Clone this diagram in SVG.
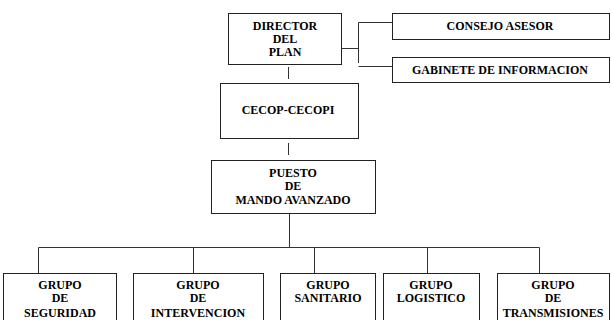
<svg xmlns="http://www.w3.org/2000/svg" width="611" height="320" viewBox="0 0 611 320">
<style>
.box{fill:#fff;stroke:#222;stroke-width:1}
.t{font-family:"Liberation Serif","Times New Roman",serif;font-weight:bold;font-size:12px;fill:#000;text-anchor:middle}
.c{stroke:#333;stroke-width:1;fill:none}
</style>
<rect width="611" height="320" fill="#fff"/>
<g id="connectors">
<path class="c" d="M341.5 48.5H358.5M358.5 22.5V63M358.5 22.5H392M358.5 66.5H392"/>
<path class="c" d="M288.5 67V79"/>
<path class="c" d="M288.5 143V155"/>
<path class="c" d="M289.5 213V247.5M38.5 247.5H539.5M38.5 247.5V273M193.5 247.5V273M314.5 247.5V273M427.5 247.5V273M539.5 247.5V273"/>
</g>
<g id="director">
<rect class="box" x="228.5" y="13.5" width="113" height="51"/>
<text class="t" x="285" y="30">DIRECTOR</text>
<text class="t" x="285" y="43">DEL</text>
<text class="t" x="285" y="56">PLAN</text>
</g>
<g id="consejo">
<rect class="box" x="392.5" y="13.5" width="217" height="26"/>
<text class="t" x="500" y="30">CONSEJO ASESOR</text>
</g>
<g id="gabinete">
<rect class="box" x="392.5" y="57.5" width="217" height="25"/>
<text class="t" x="500" y="74">GABINETE DE INFORMACION</text>
</g>
<g id="cecop">
<rect class="box" x="220.5" y="83.5" width="138" height="55"/>
<text class="t" x="288" y="114">CECOP-CECOPI</text>
</g>
<g id="pma">
<rect class="box" x="211.5" y="160.5" width="164" height="53"/>
<text class="t" x="293" y="177">PUESTO</text>
<text class="t" x="293" y="190">DE</text>
<text class="t" x="293" y="204">MANDO AVANZADO</text>
</g>
<g id="seguridad">
<rect class="box" x="3.5" y="273.5" width="113" height="60"/>
<text class="t" x="60" y="289">GRUPO</text>
<text class="t" x="60" y="302">DE</text>
<text class="t" x="60" y="317">SEGURIDAD</text>
</g>
<g id="intervencion">
<rect class="box" x="133.5" y="273.5" width="130" height="60"/>
<text class="t" x="198" y="289">GRUPO</text>
<text class="t" x="198" y="302">DE</text>
<text class="t" x="198" y="317">INTERVENCION</text>
</g>
<g id="sanitario">
<rect class="box" x="280.5" y="273.5" width="95" height="60"/>
<text class="t" x="328" y="289">GRUPO</text>
<text class="t" x="328" y="302">SANITARIO</text>
</g>
<g id="logistico">
<rect class="box" x="383.5" y="273.5" width="96" height="60"/>
<text class="t" x="431" y="289">GRUPO</text>
<text class="t" x="431" y="302">LOGISTICO</text>
</g>
<g id="transmisiones">
<rect class="box" x="497.5" y="273.5" width="112" height="60"/>
<text class="t" x="553" y="289">GRUPO</text>
<text class="t" x="553" y="302">DE</text>
<text class="t" x="553" y="317">TRANSMISIONES</text>
</g>
</svg>
